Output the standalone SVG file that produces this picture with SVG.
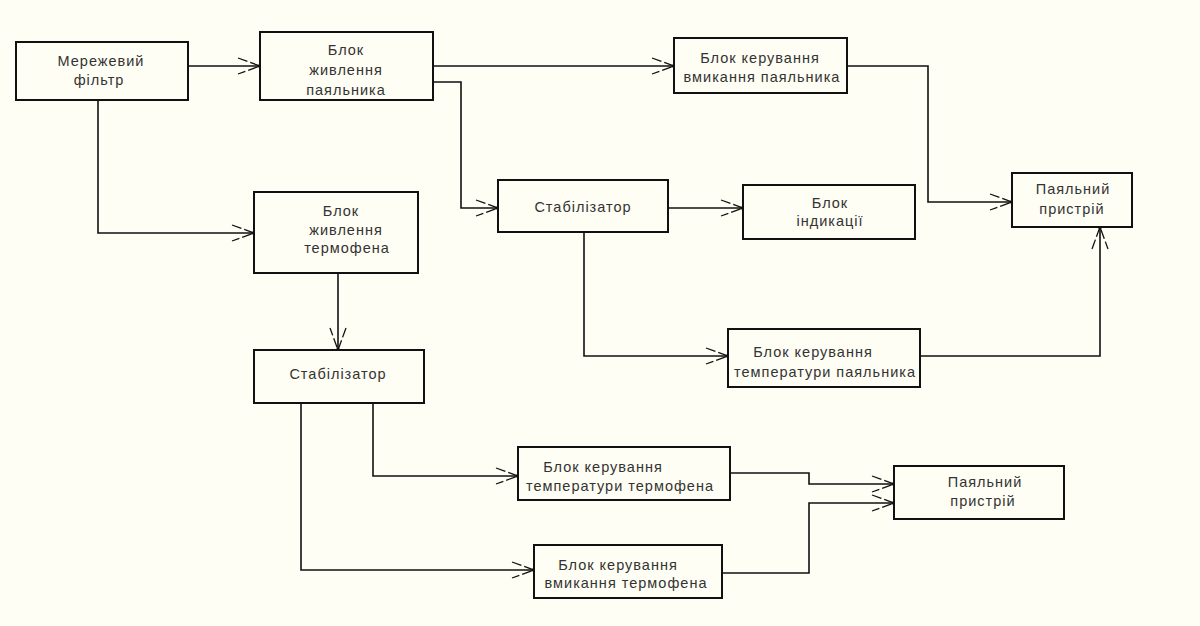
<svg xmlns="http://www.w3.org/2000/svg" width="1200" height="626" viewBox="0 0 1200 626">
<defs>
<style>
.box{fill:none;stroke:#111;stroke-width:2}
.t{font-family:"Liberation Sans",Arial,sans-serif;font-size:14.5px;fill:#333;text-anchor:middle;letter-spacing:1px}
.c{fill:none;stroke:#111;stroke-width:1.6}
</style>
<marker id="ah" markerUnits="userSpaceOnUse" markerWidth="30" markerHeight="24" viewBox="-26 -12 30 24" refX="0" refY="0" orient="auto">
<path d="M-22,-8 L0,0 L-22,8" fill="none" stroke="#111" stroke-width="1.3" stroke-dasharray="10,3"/>
<circle cx="-1" cy="0" r="1.6" fill="#111"/>
</marker>
</defs>
<rect width="1200" height="626" fill="#fefef4"/>
<g id="connectors">
<path class="c" d="M188,66 H260" marker-end="url(#ah)"/>
<path class="c" d="M433,66 H674" marker-end="url(#ah)"/>
<path class="c" d="M433,82 H461 V208 H498" marker-end="url(#ah)"/>
<path class="c" d="M847,66 H928 V202 H1012" marker-end="url(#ah)"/>
<path class="c" d="M668,208 H743" marker-end="url(#ah)"/>
<path class="c" d="M584,232 V356 H728" marker-end="url(#ah)"/>
<path class="c" d="M920,356 H1100 V227" marker-end="url(#ah)"/>
<path class="c" d="M98,100 V233 H254" marker-end="url(#ah)"/>
<path class="c" d="M338,273 V350" marker-end="url(#ah)"/>
<path class="c" d="M373,403 V476 H518" marker-end="url(#ah)"/>
<path class="c" d="M301,403 V570 H534" marker-end="url(#ah)"/>
<path class="c" d="M730,473 H809 V484 H894" marker-end="url(#ah)"/>
<path class="c" d="M722,573 H809 V503 H894" marker-end="url(#ah)"/>
</g>
<g id="n-filter"><rect class="box" x="16" y="42" width="172" height="58"/><text class="t" x="101" y="66">Мережевий</text><text class="t" x="99" y="85">фільтр</text></g>
<g id="n-psu-iron"><rect class="box" x="260" y="32" width="173" height="68"/><text class="t" x="346" y="55">Блок</text><text class="t" x="346" y="75">живлення</text><text class="t" x="346" y="95">паяльника</text></g>
<g id="n-ctl-on-iron"><rect class="box" x="674" y="38" width="173" height="55"/><text class="t" x="760" y="63">Блок керування</text><text class="t" x="762" y="82">вмикання паяльника</text></g>
<g id="n-stab1"><rect class="box" x="498" y="180" width="170" height="52"/><text class="t" x="583" y="212">Стабілізатор</text></g>
<g id="n-ind"><rect class="box" x="743" y="185" width="172" height="54"/><text class="t" x="830" y="208">Блок</text><text class="t" x="830" y="226">індикації</text></g>
<g id="n-dev1"><rect class="box" x="1012" y="173" width="120" height="54"/><text class="t" x="1073" y="194">Паяльний</text><text class="t" x="1072" y="214">пристрій</text></g>
<g id="n-psu-fen"><rect class="box" x="254" y="192" width="164" height="81"/><text class="t" x="341" y="216">Блок</text><text class="t" x="346" y="235">живлення</text><text class="t" x="347" y="253">термофена</text></g>
<g id="n-stab2"><rect class="box" x="254" y="350" width="170" height="53"/><text class="t" x="338" y="379">Стабілізатор</text></g>
<g id="n-ctl-temp-iron"><rect class="box" x="728" y="329" width="192" height="58"/><text class="t" x="813" y="357">Блок керування</text><text class="t" x="825" y="377">температури паяльника</text></g>
<g id="n-ctl-temp-fen"><rect class="box" x="518" y="447" width="212" height="53"/><text class="t" x="603" y="472">Блок керування</text><text class="t" x="620" y="491">температури термофена</text></g>
<g id="n-ctl-on-fen"><rect class="box" x="534" y="545" width="188" height="53"/><text class="t" x="618" y="570">Блок керування</text><text class="t" x="626" y="588">вмикання термофена</text></g>
<g id="n-dev2"><rect class="box" x="894" y="466" width="170" height="53"/><text class="t" x="985" y="487">Паяльний</text><text class="t" x="983" y="506">пристрій</text></g>
</svg>
